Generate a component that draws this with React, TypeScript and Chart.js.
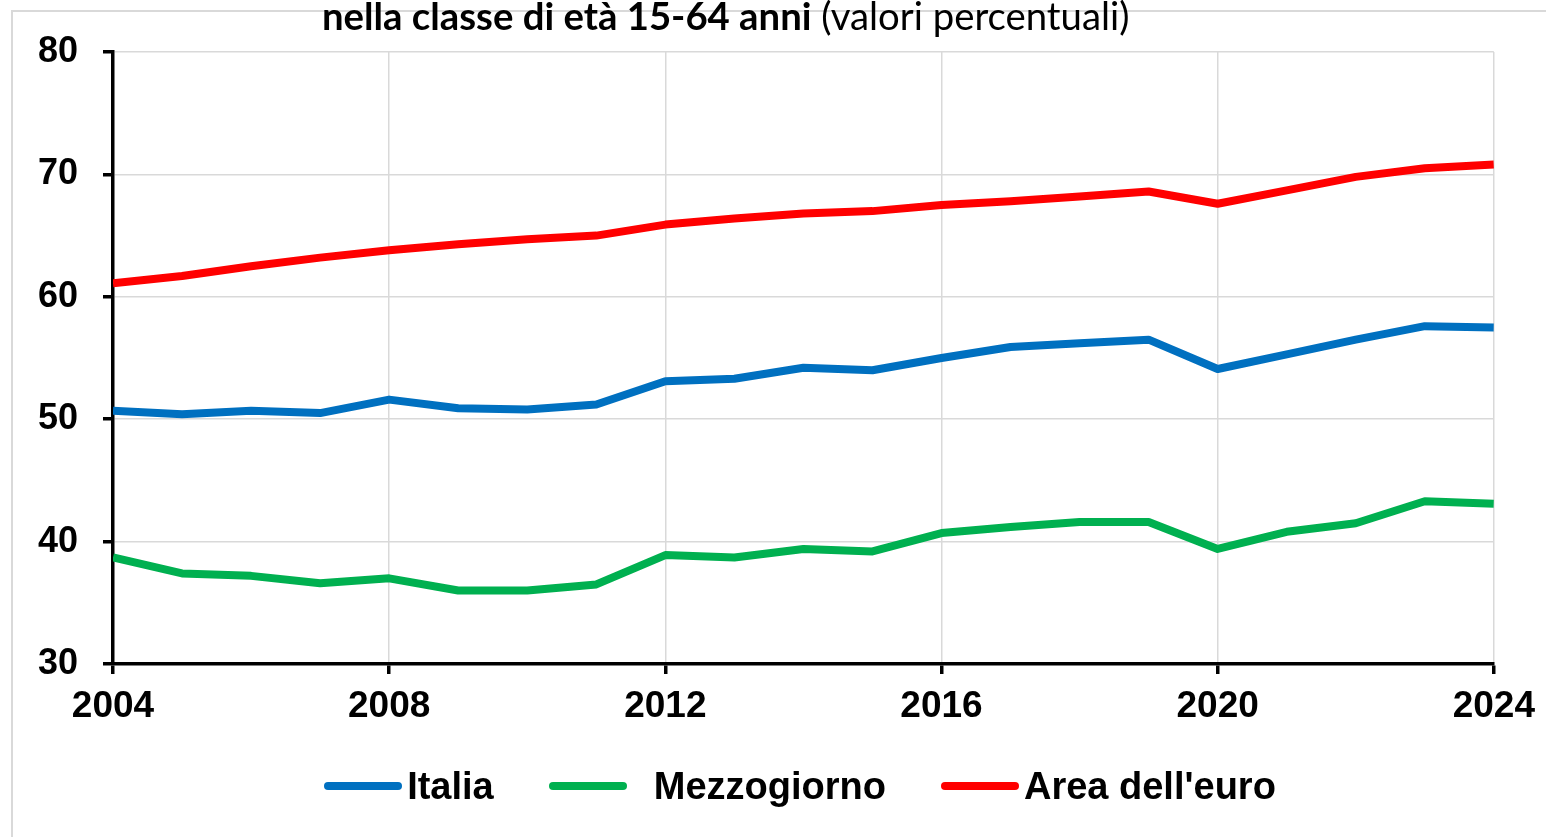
import React, { useEffect, useRef } from "react";
import { Chart, registerables } from "chart.js";

Chart.register(...registerables);

const years = [2004, 2005, 2006, 2007, 2008, 2009, 2010, 2011, 2012, 2013, 2014, 2015, 2016, 2017, 2018, 2019, 2020, 2021, 2022, 2023, 2024];
const italia = [50.7, 50.4, 50.7, 50.5, 51.6, 50.9, 50.8, 51.2, 53.1, 53.3, 54.2, 54.0, 55.0, 55.9, 56.2, 56.5, 54.1, 55.3, 56.5, 57.6, 57.5];
const mezzogiorno = [38.7, 37.4, 37.2, 36.6, 37.0, 36.0, 36.0, 36.5, 38.9, 38.7, 39.4, 39.2, 40.7, 41.2, 41.6, 41.6, 39.4, 40.8, 41.5, 43.3, 43.1];
const areaEuro = [61.1, 61.7, 62.5, 63.2, 63.8, 64.3, 64.7, 65.0, 65.9, 66.4, 66.8, 67.0, 67.5, 67.8, 68.2, 68.6, 67.6, 68.7, 69.8, 70.5, 70.8];
const seriesLabels = ["Italia", "Mezzogiorno", "Area dell'euro"];
const seriesColors = ["#0070C0", "#00B050", "#FF0000"];
const titleBold = "nella classe di età 15-64 anni";
const titleNormal = " (valori percentuali)";

const AXIS_FONT = "'Liberation Sans', Arial, sans-serif";

export default function App() {
  const ref = useRef<HTMLCanvasElement | null>(null);

  useEffect(() => {
    if (!ref.current) return;
    const series = [italia, mezzogiorno, areaEuro];
    const chart = new Chart(ref.current, {
      type: "line",
      data: {
        datasets: series.map((s, i) => ({
          label: seriesLabels[i],
          data: s.map((v, j) => ({ x: years[j], y: v })),
          borderColor: seriesColors[i],
          backgroundColor: seriesColors[i],
          borderWidth: 8,
          pointRadius: 0,
          tension: 0,
          borderJoinStyle: "round" as const,
          fill: false,
        })),
      },
      options: {
        animation: false,
        responsive: true,
        maintainAspectRatio: false,
        layout: { padding: { top: 52, right: 52, bottom: 93, left: 0 } },
        plugins: {
          legend: { display: false },
          title: { display: false },
          tooltip: { enabled: false },
        },
        scales: {
          x: {
            type: "linear",
            min: 2004,
            max: 2024,
            afterFit: (s: any) => {
              s.height = 80;
            },
            ticks: {
              stepSize: 4,
              autoSkip: false,
              maxRotation: 0,
              padding: 11,
              color: "#000",
              font: { family: AXIS_FONT, size: 37, weight: "bold" },
              callback: (v: any) => String(v),
            },
            grid: {
              color: "#d9d9d9",
              lineWidth: 1.5,
              tickColor: "#000",
              tickLength: 10,
              tickWidth: 3.5,
            },
            border: { color: "#000", width: 3.5 },
          },
          y: {
            min: 30,
            max: 80,
            afterFit: (s: any) => {
              s.width = 113;
            },
            ticks: {
              stepSize: 10,
              padding: 25,
              color: "#000",
              font: { family: AXIS_FONT, size: 36, weight: "bold" },
            },
            grid: {
              color: "#d9d9d9",
              lineWidth: 1.5,
              tickColor: "#000",
              tickLength: 10,
              tickWidth: 3.5,
            },
            border: { color: "#000", width: 3.5 },
          },
        },
      },
    });
    return () => chart.destroy();
  }, []);

  return (
    <div style={{ position: "fixed", left: 0, top: 0, width: 1546, height: 837, background: "#fff", overflow: "hidden" }}>
      <div
        style={{
          position: "absolute",
          left: 11,
          top: 10,
          width: 2000,
          height: 2000,
          borderLeft: "2px solid #d9d9d9",
          borderTop: "2px solid #d9d9d9",
        }}
      />
      <div style={{ position: "absolute", left: 0, top: 0, width: 1546, height: 837 }}>
        <canvas ref={ref} />
      </div>
      <div
        style={{
          position: "absolute",
          left: 322,
          top: -4,
          whiteSpace: "nowrap",
          fontFamily: "Lato, 'Open Sans', sans-serif",
          fontSize: 38.3,
          lineHeight: "38px",
          color: "#000",
        }}
      >
        <span style={{ fontWeight: "bold" }}>{titleBold}</span>
        <span>{titleNormal}</span>
      </div>
      <div
        style={{
          position: "absolute",
          left: 0,
          top: 764,
          width: 1600,
          display: "flex",
          justifyContent: "center",
          alignItems: "center",
          fontFamily: AXIS_FONT,
          fontWeight: "bold",
          fontSize: 38,
          lineHeight: "44px",
          color: "#000",
        }}
      >
        {seriesLabels.map((lab, i) => (
          <div key={lab} style={{ display: "flex", alignItems: "center", marginRight: i < seriesLabels.length - 1 ? 55 : 0 }}>
            <span
              style={{
                display: "inline-block",
                width: 78,
                height: 8,
                borderRadius: 4,
                background: seriesColors[i],
                marginRight: i === 1 ? 27 : 5,
              }}
            />
            <span>{lab}</span>
          </div>
        ))}
      </div>
    </div>
  );
}
